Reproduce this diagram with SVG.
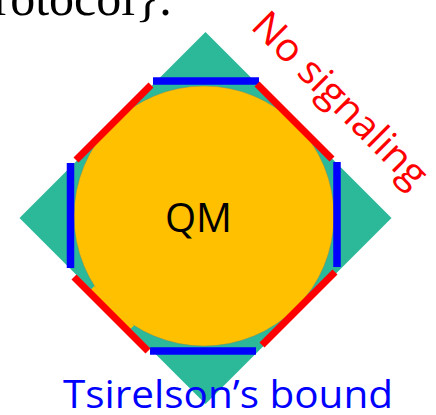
<svg xmlns="http://www.w3.org/2000/svg" width="436" height="415" viewBox="0 0 436 415">
  <style>
    .blue { stroke: #0000FF; stroke-width: 7.5; stroke-linecap: butt; fill: none; }
    .red { stroke: #FF0000; stroke-width: 7; stroke-linecap: butt; fill: none; }
    .lbl { font-family: "Open Sans", "Liberation Sans", sans-serif; }
  </style>
  <rect width="436" height="415" fill="#FFFFFF"/>
  <text x="-6.5" y="14.5" font-family="Liberation Serif, serif" font-size="50" fill="#000000">rotocol}.</text>
  <g id="nonlocal-region">
    <polygon points="205.5,32 391.5,218 205.5,404 19.5,218" fill="#2BB99A"/>
  </g>
  <g id="qm-region">
    <circle cx="204" cy="216" r="130" fill="#FFC000" stroke="#8a8a5a" stroke-width="0.8" stroke-opacity="0.6"/>
    <polygon points="88.7,291.7 128.3,331.3 134,325.6 94.4,286" fill="#FFC000"/>
    <text class="lbl" x="198.5" y="232" font-size="40" text-anchor="middle" fill="#000000">QM</text>
  </g>
  <g id="connectors">
    <line class="blue" x1="153" y1="81" x2="259" y2="81"/>
    <line class="blue" x1="150" y1="351" x2="256" y2="351"/>
    <line class="blue" x1="70.5" y1="163" x2="70.5" y2="268"/>
    <line class="blue" x1="337" y1="162" x2="337" y2="267"/>
    <line class="red" x1="151" y1="85" x2="76" y2="160"/>
    <line class="red" x1="257" y1="84" x2="332" y2="159"/>
    <line class="red" x1="74" y1="277" x2="148" y2="351"/>
    <line class="red" x1="335" y1="272" x2="262" y2="345"/>
  </g>
  <g id="labels">
    <text class="lbl" x="0" y="0" font-size="39" fill="#FF0000" textLength="230" lengthAdjust="spacingAndGlyphs" transform="translate(249.5,27.5) rotate(45)">No signaling</text>
    <text class="lbl" x="63" y="408" font-size="39" fill="#0000FF" textLength="330" lengthAdjust="spacingAndGlyphs">Tsirelson’s bound</text>
  </g>
</svg>
